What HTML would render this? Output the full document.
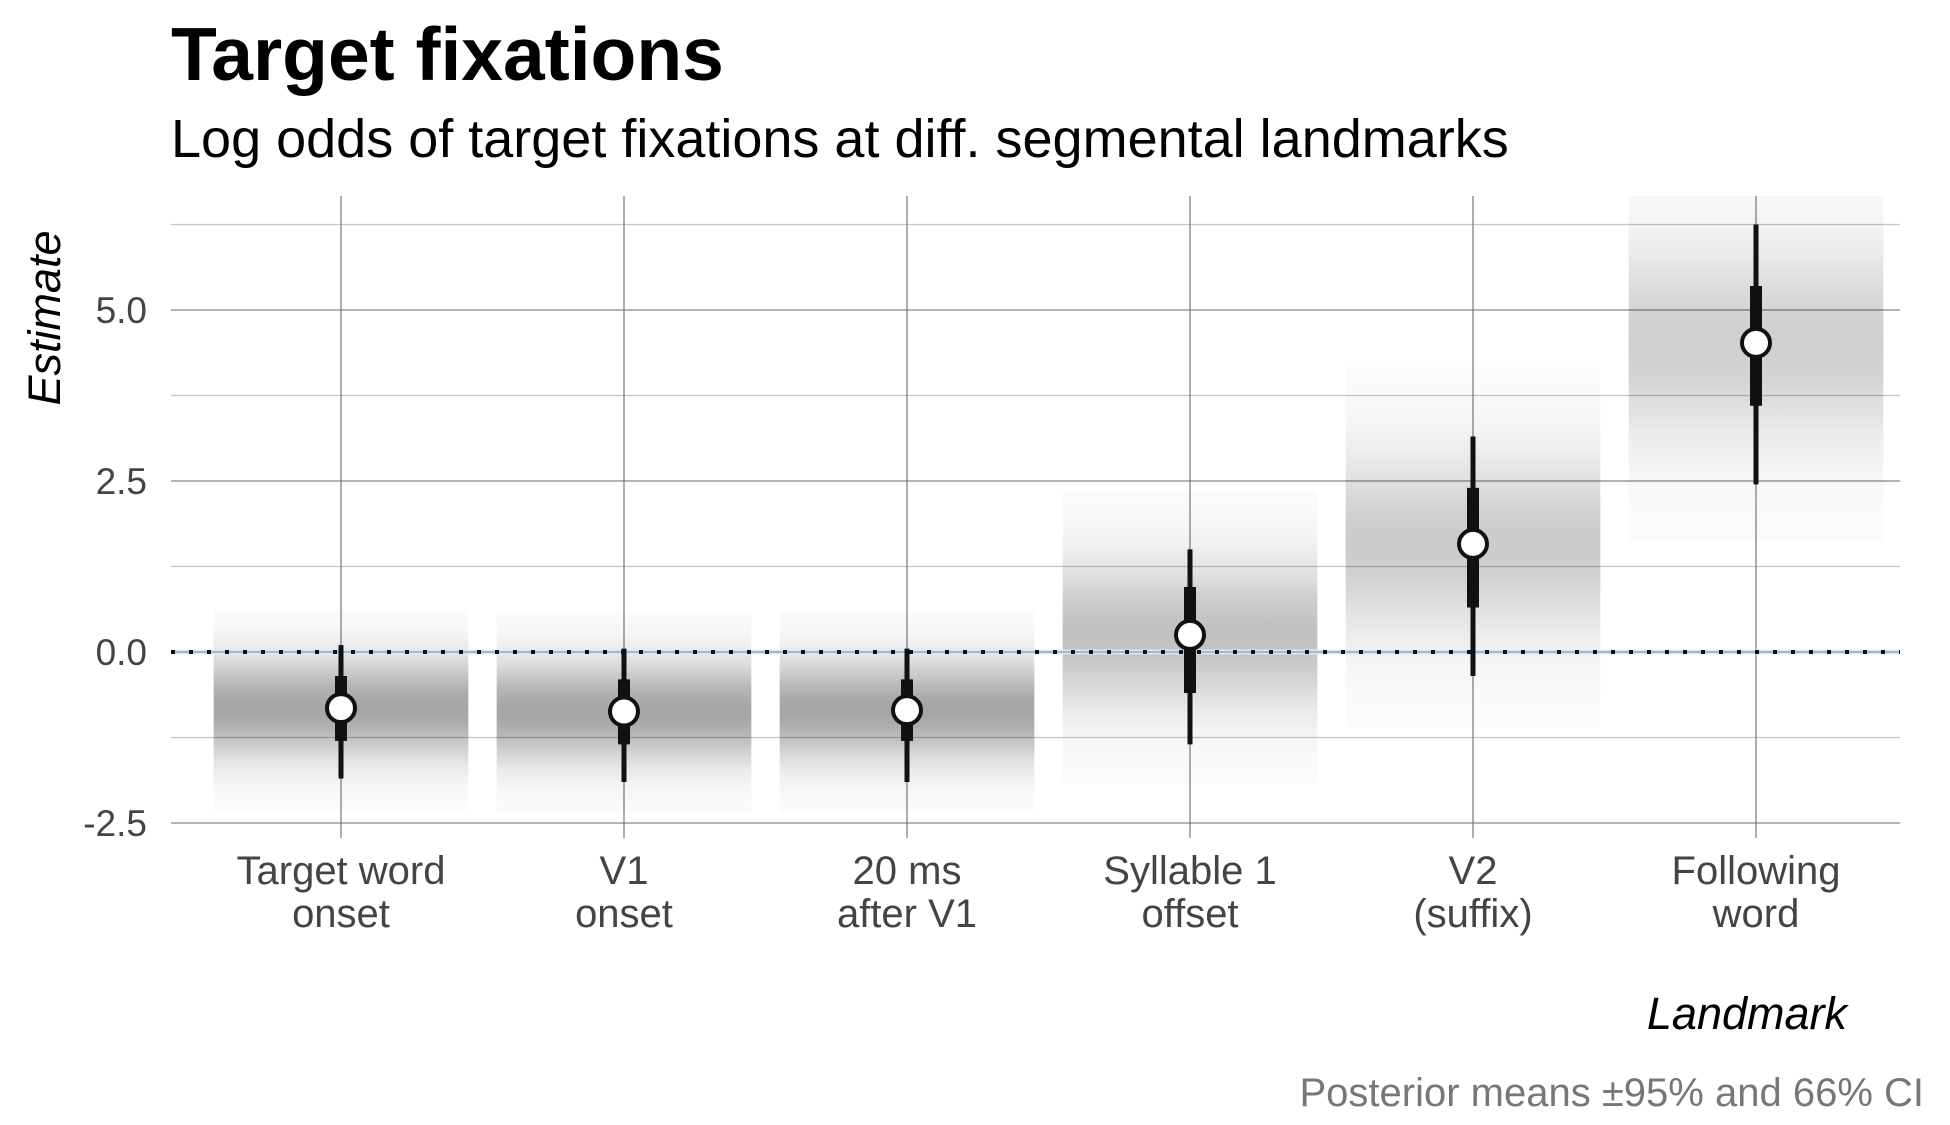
<!DOCTYPE html>
<html><head><meta charset="utf-8"><style>
html,body{margin:0;padding:0;background:#fff;}
svg{display:block;font-family:"Liberation Sans",sans-serif;}
</style></head><body>
<svg id="chart" width="1950" height="1125" viewBox="0 0 1950 1125" xmlns="http://www.w3.org/2000/svg">
<defs id="defs"></defs>
<text x="171" y="80" font-size="75" font-weight="bold" fill="#000">Target fixations</text>
<text x="171" y="157" font-size="54" fill="#000">Log odds of target fixations at diff. segmental landmarks</text>
<g id="grid"></g>
<g id="bands"></g>
<g id="zero"></g>
<g id="marks"></g>
<g id="ylabels"></g>
<g id="xlabels"></g>
<text transform="translate(60,318) rotate(-90)" text-anchor="middle" font-size="45" font-style="italic" fill="#000">Estimate</text>
<text x="1847" y="1029" text-anchor="end" font-size="45" font-style="italic" fill="#000">Landmark</text>
<text x="1924" y="1106" text-anchor="end" font-size="40" fill="#777">Posterior means ±95% and 66% CI</text>
</svg>
<script>
const categories = [["Target word","onset"],["V1","onset"],["20 ms","after V1"],["Syllable 1","offset"],["V2","(suffix)"],["Following","word"]];
const means = [-0.82, -0.87, -0.85, 0.25, 1.58, 4.52];
const lo66 = [-1.3, -1.35, -1.3, -0.6, 0.65, 3.6];
const hi66 = [-0.35, -0.4, -0.4, 0.95, 2.4, 5.35];
const lo95 = [-1.85, -1.9, -1.9, -1.35, -0.35, 2.45];
const hi95 = [0.1, 0.05, 0.05, 1.5, 3.15, 6.25];
const majorTicks = [-2.5, 0, 2.5, 5];
const majorTickLabels = ["-2.5", "0.0", "2.5", "5.0"];
const minorTicks = [-1.25, 1.25, 3.75, 6.25];

const NS = "http://www.w3.org/2000/svg";
const X0 = 171, X1 = 1900, Y0 = 652, PPU = 68.4, PTOP = 196, PBOT = 838;
const step = 283;
function xs(i){ return 341 + step * i; }
function ys(v){ return Y0 - v * PPU; }
function mk(tag, attrs, parent){
  const e = document.createElementNS(NS, tag);
  for (const k in attrs) e.setAttribute(k, attrs[k]);
  parent.appendChild(e); return e;
}
const grid = document.getElementById('grid');
minorTicks.forEach(t => {
  const l = mk('line', {x1:X0, x2:X1, y1:ys(t), y2:ys(t), stroke:'#c4c4c4', 'stroke-width':1.2}, grid);
  
  
});
majorTicks.forEach(t => {
  const l = mk('line', {x1:X0, x2:X1, y1:ys(t), y2:ys(t), stroke:'#9a9a9a', 'stroke-width':1.4}, grid);
  
  
});
categories.forEach((c, i) => {
  const l = mk('line', {x1:xs(i), x2:xs(i), y1:PTOP, y2:PBOT, stroke:'#777', 'stroke-width':1.2}, grid);
  
  
});
const defs = document.getElementById('defs');
const bands = document.getElementById('bands');
categories.forEach((c, i) => {
  const sd = (hi95[i] - lo95[i]) / 3.92;
  const topFull = means[i] + 2.9 * sd;
  const top = Math.min(topFull, (Y0 - PTOP) / PPU);
  const bot = means[i] - 3.0 * sd;
  const dark = Math.min(0.34, 0.17 / sd);
  const g = mk('linearGradient', {id:'g' + i, x1:0, y1:0, x2:0, y2:1}, defs);
  for (let k = 0; k <= 40; k++) {
    const v = top - (top - bot) * k / 40;
    const z = (v - means[i]) / sd;
    const op = dark * Math.exp(-z * z / 2) + 0.012;
    mk('stop', {offset:(k / 40), 'stop-color':'#000', 'stop-opacity':op.toFixed(3)}, g);
  }
  const r = mk('rect', {x:xs(i) - step * 0.45, y:ys(top), width:step * 0.9, height:ys(bot) - ys(top), fill:'url(#g' + i + ')'}, bands);
  
  
});
const zero = document.getElementById('zero');
mk('line', {x1:X0, x2:X1, y1:ys(0), y2:ys(0), stroke:'#dce9f0', 'stroke-width':5}, zero);
mk('line', {x1:X0, x2:X1, y1:ys(0), y2:ys(0), stroke:'#6a8a9a', 'stroke-width':1}, zero);
mk('line', {x1:X0, x2:X1, y1:ys(0), y2:ys(0), stroke:'#111', 'stroke-width':4, 'stroke-dasharray':'4 14'}, zero);
const marks = document.getElementById('marks');
categories.forEach((c, i) => {
  const l95 = mk('line', {x1:xs(i), x2:xs(i), y1:ys(lo95[i]), y2:ys(hi95[i]), stroke:'#111', 'stroke-width':5}, marks);
  
  
  const l66 = mk('line', {x1:xs(i), x2:xs(i), y1:ys(lo66[i]), y2:ys(hi66[i]), stroke:'#111', 'stroke-width':12}, marks);
  
  
  const p = mk('circle', {cx:xs(i), cy:ys(means[i]), r:14, fill:'#fff', stroke:'#111', 'stroke-width':4}, marks);
  
  
});
const yl = document.getElementById('ylabels');
majorTicks.forEach((t, k) => {
  const tx = mk('text', {x:147, y:ys(t) + 13, 'text-anchor':'end', 'font-size':37, fill:'#444'}, yl);
  tx.textContent = majorTickLabels[k];
  
  
});
const xl = document.getElementById('xlabels');
categories.forEach((c, i) => {
  c.forEach((line, j) => {
    const tx = mk('text', {x:xs(i), y:884 + j * 43, 'text-anchor':'middle', 'font-size':40, fill:'#444'}, xl);
    tx.textContent = line;
    
    
  });
});
</script>
</body></html>
